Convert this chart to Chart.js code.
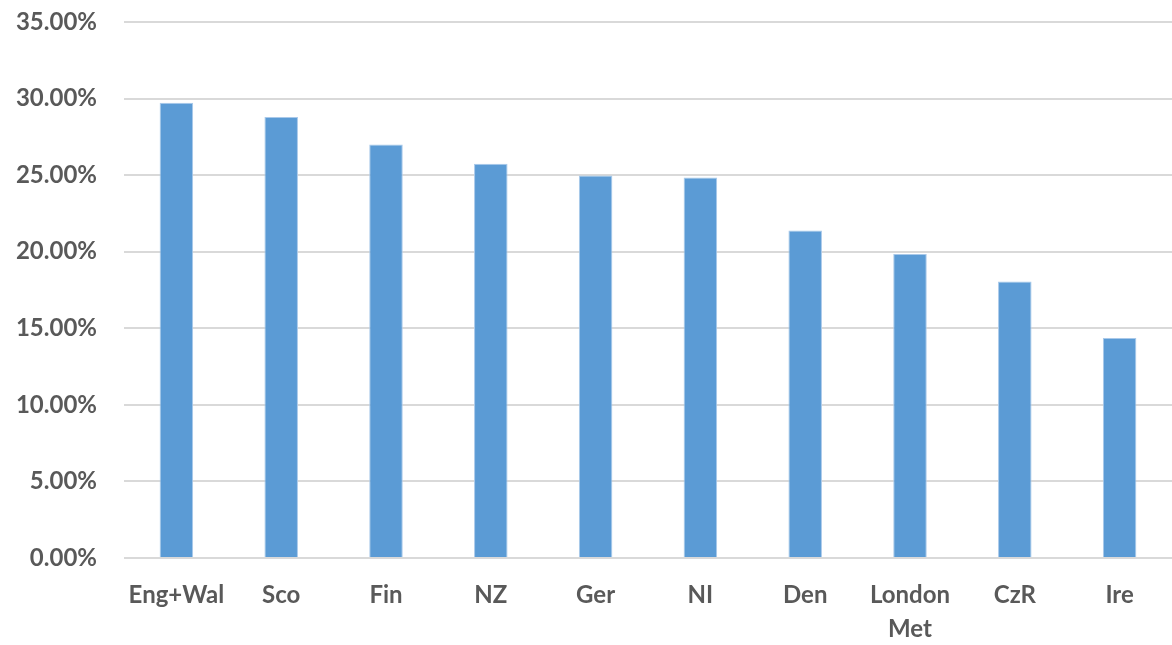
<!DOCTYPE html>
<html>
<head>
  <title>Bar chart</title>
  <script src="https://cdn.jsdelivr.net/npm/chart.js"></script>
  <style>
    body { margin: 0; background: #fff; }
    #wrap { position: relative; width: 1172px; height: 645px; }
  </style>
</head>
<body>
  <div id="wrap"><canvas id="chart"></canvas></div>
  <script>
    const categories = ['Eng+Wal', 'Sco', 'Fin', 'NZ', 'Ger', 'NI', 'Den', ['London', 'Met'], 'CzR', 'Ire'];
    const values = [0.2972, 0.2880, 0.2700, 0.2575, 0.2497, 0.2484, 0.2138, 0.1985, 0.1805, 0.1437];
    const yTicks = [0, 0.05, 0.10, 0.15, 0.20, 0.25, 0.30, 0.35];

    const labelFont = { family: 'Lato', size: 24, weight: 'bold', lineHeight: 1.42 };

    new Chart(document.getElementById('chart'), {
      type: 'bar',
      data: {
        labels: categories,
        datasets: [{
          data: values,
          backgroundColor: '#5b9bd5',
          borderColor: '#a9c9ea',
          borderWidth: 1,
          barPercentage: 0.32,
          categoryPercentage: 1
        }]
      },
      options: {
        responsive: true,
        maintainAspectRatio: false,
        animation: false,
        layout: { padding: { top: 22, right: 0, left: 0, bottom: 0 } },
        plugins: { legend: { display: false }, tooltip: { enabled: false } },
        scales: {
          x: {
            grid: { display: false, drawTicks: false },
            border: { display: false },
            ticks: { color: '#595959', font: labelFont, padding: 20, maxRotation: 0, autoSkip: false },
            afterFit: s => { s.height = 87; }
          },
          y: {
            min: 0,
            max: 0.35,
            afterBuildTicks: s => { s.ticks = yTicks.map(v => ({ value: v })); },
            grid: { color: '#d9d9d9', lineWidth: 2, drawTicks: false },
            border: { display: false },
            ticks: {
              color: '#595959',
              font: labelFont,
              padding: 27,
              callback: v => (v * 100).toFixed(2) + '%'
            },
            afterFit: s => { s.width = 124; s.paddingTop = 0; s.paddingBottom = 0; }
          }
        }
      }
    });
  </script>
</body>
</html>
